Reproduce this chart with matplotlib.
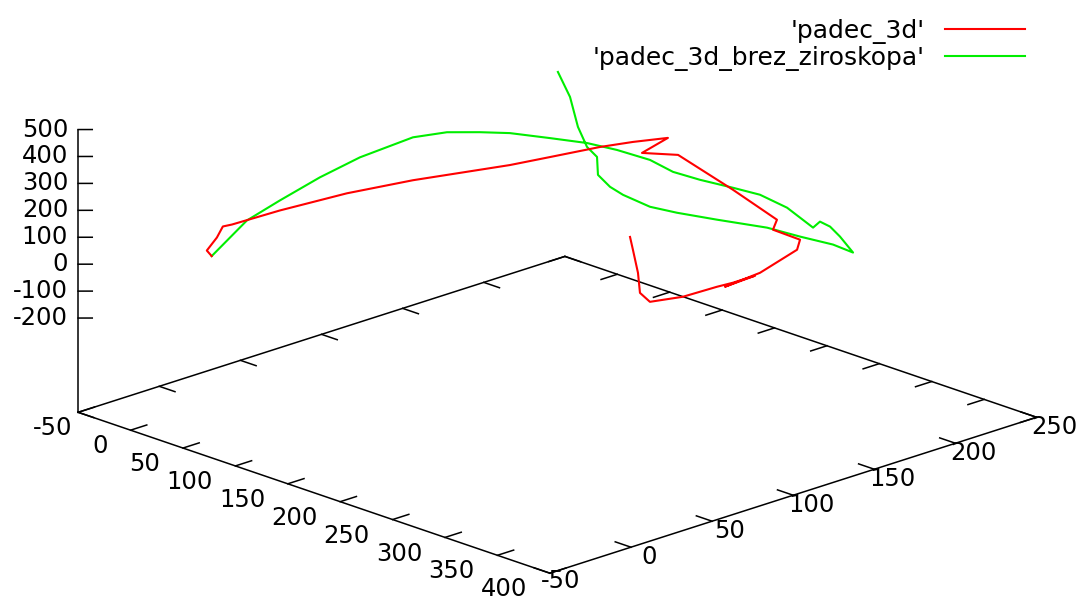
import matplotlib.pyplot as plt
from matplotlib.lines import Line2D

# 数据: padec_3d (红线)
red_x = [0, 3.1, -10.5, -17.2, -14.7, 9.4, 42.3, 75.9, 123.5, 144.7, 169.2, 185.2, 203.1,
         196.9, 220.5, 288.4, 345.8, 342.0, 383.3, 385.1, 352.9, 322.5, 349.6, 330.1,
         318.0, 288.6, 263.3, 260.0, 264.3, 262.6, 262.9]
red_y = [0, -5, 10, 18, 22, 36, 56, 75, 104, 115, 130, 140, 150,
         138, 145, 135, 125, 125, 115, 112, 110, 108, 109, 108,
         106, 104, 100, 96, 92, 90, 88]
red_z = [0, 34.4, 35.7, 52.4, 55.2, 112.5, 181.2, 237.7, 301.3, 337.9, 378.9, 399.6, 419.1,
         378.2, 388.7, 368.5, 352.9, 310.8, 347.8, 318.7, 194.3, 105.9, 180.9, 130.9,
         103.7, 31.4, -13.3, 23.3, 110.9, 197.8, 250.3]

# 数据: padec_3d_brez_ziroskopa (绿线)
green_x = [0, 18.1, 34.1, 49.0, 64.0, 83.7, 100.6, 116.6, 129.7, 152.5, 172.3, 188.5, 209.2,
           220.3, 233.6, 252.8, 267.7, 282.7, 295.1, 298.6, 303.6, 305.3, 308.5, 283.2,
           244.0, 204.8, 149.3, 106.5, 77.6, 48.8, 33.3, 18.7, 17.8, 6.7, -3.5, -12.6, -25.7]
green_y = [0, 10, 20, 35, 50, 70, 80, 90, 100, 110, 120, 128, 135,
           142, 150, 158, 165, 172, 180, 182, 185, 190, 196, 200,
           205, 210, 215, 218, 220, 222, 224, 226, 226, 227, 228, 229, 230]
green_z = [0, 137.0, 213.3, 289.8, 355.1, 417.1, 439.1, 441.2, 435.9, 428.3, 417.0, 397.4, 374.3,
           331.2, 304.0, 284.4, 264.8, 223.1, 150.1, 173.2, 155.5, 111.2, 44.4, 32.8,
           0.7, -27.8, -81.5, -118.4, -138.4, -136.2, -130.9, -109.7, -44.2, -23.8, 35.2, 132.3, 205.8]

# 坐标轴刻度
x_ticks = [-50, 0, 50, 100, 150, 200, 250, 300, 350, 400]
y_ticks = [-50, 0, 50, 100, 150, 200, 250]
z_ticks = [-200, -100, 0, 100, 200, 300, 400, 500]
x_min, x_max = -50, 400
y_min, y_max = -50, 250
z_base, z_max = -550, 500  # gnuplot ticslevel 0.5

fs = 17.5
black = dict(color='black', lw=1.1, clip_on=False, zorder=1)

fig = plt.figure(figsize=(10.81, 6.0), dpi=100)
ax = fig.add_axes([0.2306, 0.0308, 0.5550, 1.0], projection='3d', proj_type='ortho')
ax.set_box_aspect((1, 1, 0.442), zoom=1.625)
ax.view_init(elev=19.3, azim=-44.1)
ax.set_xlim(x_min, x_max)
ax.set_ylim(y_min, y_max)
ax.set_zlim(z_base, z_max)
ax.set_axis_off()
ax.computed_zorder = False

# 底面边框和z轴
ax.plot([x_min, x_max, x_max, x_min, x_min], [y_min, y_min, y_max, y_max, y_min],
        [z_base] * 5, **black)
ax.plot([x_min, x_min], [y_min, y_min], [z_base, z_max], **black)

# x刻度 (前后两条边)
for t in x_ticks:
    ax.plot([t, t], [y_min, y_min + 10], [z_base, z_base], **black)
    ax.plot([t, t], [y_max, y_max - 10], [z_base, z_base], **black)
    if t == x_min:
        # 角上的 -50 在原图里更靠右
        ax.text(t, y_min - 3.5, z_base - 53, str(t), ha='right', va='center', fontsize=fs)
    else:
        ax.text(t, y_min - 14, z_base - 33, str(t), ha='right', va='center', fontsize=fs)

# y刻度
for t in y_ticks:
    ax.plot([x_max, x_max - 15], [t, t], [z_base, z_base], **black)
    ax.plot([x_min, x_min + 15], [t, t], [z_base, z_base], **black)
    if t == y_min:
        ax.text(x_max + 10, t, z_base - 15, str(t), ha='center', va='center', fontsize=fs)
    else:
        ax.text(x_max + 17, t, z_base - 12.6, str(t), ha='center', va='center', fontsize=fs)

# z刻度
for t in z_ticks:
    ax.plot([x_min, x_min + 6.5], [y_min, y_min + 4.5], [t, t], **black)
    ax.text(x_min - 4.6, y_min - 3.2, t, str(t), ha='right', va='center', fontsize=fs)

# 曲线
ax.plot(red_x, red_y, red_z, color='#ff0000', lw=1.5, clip_on=False, zorder=3)
ax.plot(green_x, green_y, green_z, color='#00ee00', lw=1.5, clip_on=False, zorder=2)

# 图例 (文字在左, 线在右)
handles = [Line2D([], [], color='#ff0000', lw=1.5), Line2D([], [], color='#00ee00', lw=1.5)]
fig.legend(handles, ["'padec_3d'", "'padec_3d_brez_ziroskopa'"], loc='upper right',
           bbox_to_anchor=(0.9482, 0.968), markerfirst=False, frameon=False, fontsize=18,
           handlelength=3.2, handletextpad=0.8, labelspacing=0.08, borderpad=0, borderaxespad=0)

plt.savefig('out.png', dpi=100)
